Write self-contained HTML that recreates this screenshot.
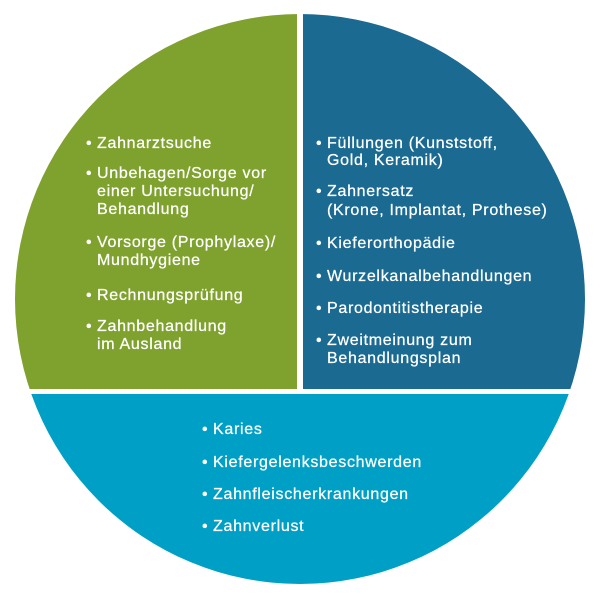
<!DOCTYPE html>
<html><head><style>html,body{margin:0;padding:0;background:#fff}svg{display:block}text{font-family:"Liberation Sans",sans-serif;font-size:16px;letter-spacing:0.7px;fill:#fff;stroke:#fff;stroke-width:0.25px}</style></head>
<body>
<svg width="600" height="600" viewBox="0 0 600 600">
<defs><clipPath id="c"><circle cx="300" cy="299" r="285"/></clipPath></defs>
<g clip-path="url(#c)">
<rect x="0" y="0" width="297" height="389" fill="#7fa22f"/>
<rect x="303" y="0" width="297" height="389" fill="#1a6a91"/>
<rect x="0" y="394" width="600" height="206" fill="#00a0c6"/>
</g>
<g>
<text x="86" y="148">•</text><text x="97" y="148">Zahnarztsuche</text>
<text x="86" y="178">•</text><text x="97" y="178">Unbehagen/Sorge vor</text>
<text x="97" y="196">einer Untersuchung/</text>
<text x="97" y="214">Behandlung</text>
<text x="86" y="247">•</text><text x="97" y="247">Vorsorge (Prophylaxe)/</text>
<text x="97" y="265">Mundhygiene</text>
<text x="86" y="300">•</text><text x="97" y="300">Rechnungsprüfung</text>
<text x="86" y="331">•</text><text x="97" y="331">Zahnbehandlung</text>
<text x="97" y="349">im Ausland</text>

<text x="316" y="148">•</text><text x="327" y="148">Füllungen (Kunststoff,</text>
<text x="327" y="165">Gold, Keramik)</text>
<text x="316" y="196">•</text><text x="327" y="196">Zahnersatz</text>
<text x="327" y="215">(Krone, Implantat, Prothese)</text>
<text x="316" y="248">•</text><text x="327" y="248">Kieferorthopädie</text>
<text x="316" y="281">•</text><text x="327" y="281">Wurzelkanalbehandlungen</text>
<text x="316" y="313">•</text><text x="327" y="313">Parodontitistherapie</text>
<text x="316" y="345">•</text><text x="327" y="345">Zweitmeinung zum</text>
<text x="327" y="363">Behandlungsplan</text>

<text x="202" y="434">•</text><text x="213" y="434">Karies</text>
<text x="202" y="467">•</text><text x="213" y="467">Kiefergelenksbeschwerden</text>
<text x="202" y="499">•</text><text x="213" y="499">Zahnfleischerkrankungen</text>
<text x="202" y="531">•</text><text x="213" y="531">Zahnverlust</text>
</g>
</svg>
</body></html>
